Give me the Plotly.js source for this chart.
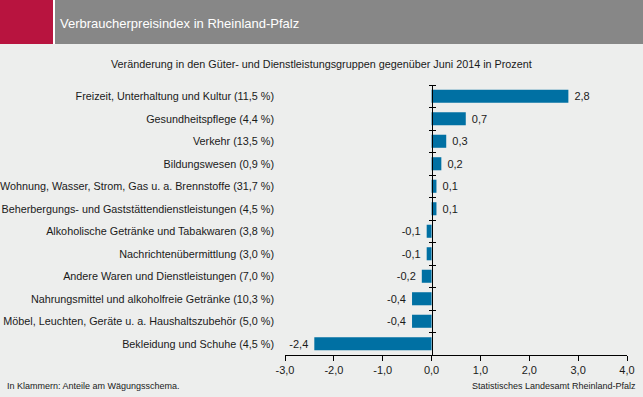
<!DOCTYPE html>
<html>
<head>
<meta charset="utf-8">
<script src="https://cdn.plot.ly/plotly-3.0.1.min.js"></script>
<style>
  html, body { margin: 0; padding: 0; background: #EDEEED; }
  #chart { width: 643px; height: 397px; }
</style>
</head>
<body>
<div id="chart"></div>
<script>
// ---- data ----
const categories = [
  "Freizeit, Unterhaltung und Kultur (11,5 %)",
  "Gesundheitspflege (4,4 %)",
  "Verkehr (13,5 %)",
  "Bildungswesen (0,9 %)",
  "Wohnung, Wasser, Strom, Gas u. a. Brennstoffe (31,7 %)",
  "Beherbergungs- und Gaststättendienstleistungen (4,5 %)",
  "Alkoholische Getränke und Tabakwaren (3,8 %)",
  "Nachrichtenübermittlung (3,0 %)",
  "Andere Waren und Dienstleistungen (7,0 %)",
  "Nahrungsmittel und alkoholfreie Getränke (10,3 %)",
  "Möbel, Leuchten, Geräte u. a. Haushaltszubehör (5,0 %)",
  "Bekleidung und Schuhe (4,5 %)"
];
const changes = [2.8, 0.7, 0.3, 0.2, 0.1, 0.1, -0.1, -0.1, -0.2, -0.4, -0.4, -2.4];
const xTickValues = [-3, -2, -1, 0, 1, 2, 3, 4];

const title = "Verbraucherpreisindex in Rheinland-Pfalz";
const subtitle = "Veränderung in den Güter- und Dienstleistungsgruppen gegenüber Juni 2014 in Prozent";
const noteLeft = "In Klammern: Anteile am Wägungsschema.";
const noteRight = "Statistisches Landesamt Rheinland-Pfalz";

// ---- helpers ----
const fmt = v => v.toFixed(1).replace('.', ',');
const pad = "\u00a0";
const barLabel = v => v >= 0 ? pad + fmt(v) : fmt(v) + pad;
const W = 643, H = 397;
const ML = 285, MR = 16, MT = 85, MB = 42;
const PW = W - ML - MR, PH = H - MT - MB;
const px = x => (x - ML) / PW;
const py = y => (H - MB - y) / PH;

const n = categories.length;
const yRange = [n - 0.5, -0.5];
const boundaries = Array.from({length: n + 1}, (_, i) => i - 0.5);
const zeroPos = (0 - xTickValues[0]) / (xTickValues[xTickValues.length - 1] - xTickValues[0]);

const font = "Liberation Sans, Arial, sans-serif";
const textColor = "#1a1a1a";
const bg = "#EDEEED";

const trace = {
  type: "bar",
  orientation: "h",
  x: changes,
  y: categories,
  width: 0.58,
  marker: { color: "#0070A3" },
  text: changes.map(barLabel),
  textposition: "outside",
  textfont: { family: font, size: 11, color: textColor },
  cliponaxis: false,
  hoverinfo: "none"
};
// empty helper traces so that the zero-line axes (with crossing ticks) get drawn
const axisHelper = (ya) => ({
  type: "scatter", mode: "markers", x: [], y: [], xaxis: "x", yaxis: ya,
  showlegend: false, hoverinfo: "none"
});

const yCross = (side) => ({
  type: "linear",
  overlaying: "y",
  anchor: "free",
  position: zeroPos,
  side: side,
  range: yRange,
  autorange: false,
  showgrid: false,
  zeroline: false,
  showline: true,
  linecolor: "#000",
  linewidth: 1,
  tickmode: "array",
  tickvals: boundaries,
  ticks: "outside",
  ticklen: 3,
  tickwidth: 1,
  tickcolor: "#000",
  showticklabels: false,
  fixedrange: true
});

const layout = {
  width: W, height: H,
  margin: { l: ML, r: MR, t: MT, b: MB, pad: 0 },
  paper_bgcolor: bg,
  plot_bgcolor: bg,
  showlegend: false,
  bargap: 0.42,
  xaxis: {
    range: [xTickValues[0], xTickValues[xTickValues.length - 1]],
    tickmode: "array",
    tickvals: xTickValues,
    ticktext: xTickValues.map(fmt),
    ticks: "outside",
    ticklen: 5,
    tickcolor: "#000",
    showline: true,
    linecolor: "#000",
    linewidth: 1,
    showgrid: false,
    zeroline: false,
    tickfont: { family: font, size: 11, color: textColor },
    fixedrange: true
  },
  yaxis: {
    type: "category",
    categoryorder: "array",
    categoryarray: categories,
    range: yRange,
    showline: false,
    showgrid: false,
    zeroline: false,
    ticks: "",
    ticklabelstandoff: 10,
    tickfont: { family: font, size: 10.8, color: textColor },
    fixedrange: true
  },
  yaxis2: yCross("left"),
  yaxis3: yCross("right"),
  shapes: [
    { type: "rect", xref: "paper", yref: "paper", x0: px(0), x1: px(53), y0: py(0), y1: py(44),
      fillcolor: "#B8143F", line: { width: 0 }, layer: "below" },
    { type: "rect", xref: "paper", yref: "paper", x0: px(53), x1: px(55), y0: py(0), y1: py(44),
      fillcolor: "#FFFFFF", line: { width: 0 }, layer: "below" },
    { type: "rect", xref: "paper", yref: "paper", x0: px(55), x1: px(W), y0: py(0), y1: py(44),
      fillcolor: "#878787", line: { width: 0 }, layer: "below" }
  ],
  annotations: [
    { text: title, xref: "paper", yref: "paper", x: px(58), y: py(23), xanchor: "left", yanchor: "middle",
      showarrow: false, font: { family: font, size: 13, color: "#FFFFFF" } },
    { text: subtitle, xref: "paper", yref: "paper", x: px(321.5), y: py(64), xanchor: "center", yanchor: "middle",
      showarrow: false, font: { family: font, size: 10.8, color: textColor } },
    { text: noteLeft, xref: "paper", yref: "paper", x: px(5), y: py(386), xanchor: "left", yanchor: "middle",
      showarrow: false, font: { family: font, size: 9, color: textColor } },
    { text: noteRight, xref: "paper", yref: "paper", x: px(638), y: py(386), xanchor: "right", yanchor: "middle",
      showarrow: false, font: { family: font, size: 9, color: textColor } }
  ]
};

Plotly.newPlot("chart", [trace, axisHelper("y2"), axisHelper("y3")], layout,
  { displayModeBar: false, staticPlot: true });
</script>
</body>
</html>
